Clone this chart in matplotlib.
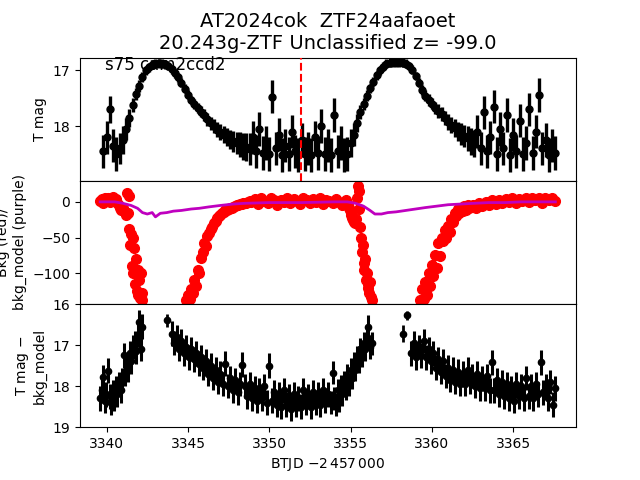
import matplotlib
matplotlib.use('Agg')
import matplotlib.pyplot as plt
import numpy as np

# --- top panel: T mag, regular cadence from top_start to top_end
top_start, top_end = 3339.8, 3367.6
top_mag = [18.45, 18.20, 17.70, 18.35, 18.50, 18.40, 18.25,
           18.05, 17.85, 17.62, 17.42, 17.28, 17.12,
           17.00, 16.94, 16.90, 16.88, 16.87, 16.88, 16.89, 16.92, 16.98, 17.05, 17.12, 17.22, 17.33,
           17.44, 17.53, 17.60, 17.67, 17.74, 17.80, 17.88, 17.95, 18.00, 18.06,
           18.10, 18.15, 18.20, 18.24, 18.27, 18.30, 18.33, 18.36, 18.38, 18.41,
           18.20, 18.45, 18.05, 18.48, 18.30, 18.50, 17.47, 18.40, 18.15, 18.52,
           18.35, 18.50, 18.10, 18.45, 18.52, 18.25, 18.50, 18.40, 18.52, 18.20,
           18.48, 18.00, 18.50, 18.35, 18.52, 17.80, 18.45, 18.30, 18.52, 18.50,
           18.30, 18.15, 17.95, 17.75, 17.60, 17.45,
           17.32, 17.20, 17.09, 17.00, 16.93, 16.88, 16.86, 16.85, 16.85, 16.85, 16.86, 16.88, 16.92, 16.99,
           17.10, 17.22, 17.35, 17.45, 17.53, 17.60, 17.67, 17.73, 17.78, 17.85,
           17.92, 17.98, 18.04, 18.09, 18.14, 18.18, 18.22, 18.27, 18.31,
           18.10, 18.40, 17.75, 18.45, 18.20, 17.65, 18.50, 18.05, 18.40, 17.80,
           18.52, 18.15, 18.45, 17.90, 18.50, 18.30, 17.70, 18.48, 18.10, 17.44,
           18.40, 18.25, 18.52, 18.35, 18.48]
top_err = [0.30, 0.30, 0.25, 0.30, 0.30, 0.28, 0.25,
           0.20, 0.16, 0.13, 0.11, 0.10, 0.09,
           0.08, 0.08, 0.08, 0.08, 0.08, 0.08, 0.08, 0.08, 0.08, 0.08, 0.08, 0.08, 0.08,
           0.08, 0.08, 0.09, 0.09, 0.10, 0.10, 0.11, 0.12, 0.12, 0.13,
           0.14, 0.15, 0.16, 0.17, 0.19, 0.20, 0.22, 0.24, 0.25, 0.28,
           0.30, 0.30, 0.30, 0.30, 0.30, 0.30, 0.30, 0.30, 0.30, 0.30,
           0.30, 0.30, 0.30, 0.30, 0.30, 0.30, 0.30, 0.30, 0.30, 0.30,
           0.30, 0.30, 0.30, 0.30, 0.30, 0.30, 0.30, 0.30, 0.30, 0.30,
           0.25, 0.20, 0.16, 0.13, 0.11, 0.09,
           0.08, 0.08, 0.08, 0.08, 0.08, 0.08, 0.08, 0.08, 0.08, 0.08, 0.08, 0.08, 0.08, 0.08,
           0.08, 0.08, 0.09, 0.09, 0.10, 0.10, 0.11, 0.12, 0.12, 0.13,
           0.14, 0.15, 0.16, 0.17, 0.19, 0.20, 0.22, 0.24, 0.25,
           0.30, 0.30, 0.30, 0.30, 0.30, 0.30, 0.30, 0.30, 0.30, 0.30,
           0.30, 0.30, 0.30, 0.30, 0.30, 0.30, 0.30, 0.30, 0.30, 0.30,
           0.30, 0.30, 0.30, 0.30, 0.30]
t_peak = 3351.95

# --- middle panel: bkg (red) in segments, bkg_model (purple)
red_seg_start = [3339.6, 3341.25, 3342.4, 3344.9, 3348.9, 3354.8, 3356.6, 3359.3, 3362.3]
red_seg_end = [3341.2, 3342.25, 3344.8, 3348.8, 3354.7, 3356.35, 3359.0, 3362.2, 3367.6]
red_1 = [1, 4, -1, 5, 2, 6, 0, 3, 7, 2, 4, -3, -8, -12, -9, -14, -18]
red_2 = [12, -15, 8, -38, -60, -45, -90, -50, -100, -65, -115, -80, -125, -95, -130,
         -110, -135, -100, -128, -138, -170]
red_3 = [-200, -260, -310, -330, -320, -300, -270, -230, -190]
red_4 = [-138, -130, -136, -122, -128, -110, -118, -95, -100, -78,
         -70, -58, -62, -48, -44, -38, -35, -30, -27, -23,
         -20, -18, -16, -14, -12, -11, -10, -9, -8, -7,
         -6, -5, -4, -3, -3, -2, -1, -1, 0, 1]
red_5 = [0, 4, -3, 5, 1, -2, 6, 2, -4, 3, 0, 5, -2, 4, 1, -3, 6, 2, -1, 4,
         0, 5, -3, 3, 1, -2, 4, 0, -4, 2]
red_6 = [-2, -5, -8, -12, -15, -18, -22, -25, -28, -26, -30, -24, 5, 22, 15, -10,
         -35, -50, -70, -60, -85, -95, -80, -110, -100, -120, -115, -128, -112, -133,
         -138, -175]
red_7 = [-220, -290, -340, -360, -350, -320, -280, -230, -180]
red_8 = [-138, -122, -136, -112, -130, -100, -118, -88, -104, -75,
         -92, -58, -76, -51, -55, -40, -50, -34, -42, -24,
         -28, -16, -20, -10, -15, -8, -13, -6, -11, -5]
red_9 = [-9, -4, -8, -2, -6, 0, -4, 2, -3, 3, -1, 4, 0, 5, -1, 4, 1, 6, 0, 5,
         2, 6, -1, 5, 2, 6, 1]
red_vals = [red_1, red_2, red_3, red_4, red_5, red_6, red_7, red_8, red_9]

model_t = [3339.6, 3340.5, 3341.0, 3341.5, 3341.9, 3342.2, 3342.5, 3342.8, 3343.0, 3343.3,
           3343.7, 3344.1, 3344.6, 3345.2, 3345.7, 3346.3, 3347.0, 3347.8, 3348.5, 3350.0,
           3352.0, 3354.0, 3354.8, 3355.3, 3355.8, 3356.2, 3356.5, 3356.9, 3357.3, 3357.8,
           3358.4, 3359.0, 3359.6, 3360.3, 3361.0, 3361.8, 3362.6, 3363.5, 3364.5, 3365.5,
           3366.5, 3367.6]
model_v = [0, 0, -2, -5, -9, -15, -17, -15, -21, -16,
           -15, -13, -12, -10, -9, -7, -5, -3, -2, -1,
           -1, 0, 0, -2, -6, -12, -17, -17, -15, -14,
           -12, -10, -8, -6, -4, -3, -2, -1, -1, 0,
           0, 0]

# --- bottom panel: T mag - bkg_model
bot_seg_start = [3339.6, 3344.0, 3353.8, 3358.75]
bot_seg_end = [3342.2, 3353.6, 3356.3, 3367.6]
bot_seg_err = [0.30, 0.30, 0.28, 0.30]
bot_1 = [18.30, 18.10, 17.78, 18.35, 18.20, 17.62, 18.25, 18.40, 18.15, 18.30,
         18.05, 18.20, 17.95, 18.10, 17.85, 17.25, 17.70, 17.50, 17.60, 17.20,
         17.40, 17.05, 16.95, 17.15, 16.75, 16.45, 17.10, 16.55]
bot_2 = [16.72, 16.95, 16.80, 17.10, 16.90, 17.20, 17.05, 17.30, 17.10, 17.35,
         17.20, 17.45, 17.30, 17.55, 17.40, 17.70, 17.50, 17.80, 17.60, 17.90,
         17.70, 17.95, 17.45, 18.00, 17.80, 18.10, 17.85, 18.15, 17.95, 17.48,
         18.00, 18.25, 17.95, 18.30, 18.05, 18.35, 18.10, 18.30, 18.00, 18.40,
         17.50, 18.35, 18.15, 18.45, 18.20, 18.50, 18.10, 18.45, 18.25, 18.55,
         18.20, 18.45, 18.30, 18.50, 18.10, 18.40, 18.25, 18.50, 18.15, 18.40,
         18.20, 18.45, 18.10, 18.35, 18.20]
bot_3 = [18.40, 17.68, 18.30, 18.45, 18.10, 18.35, 18.00, 18.20, 17.90, 18.05,
         17.75, 17.95, 17.60, 17.80, 17.45, 17.60, 17.30, 17.40, 17.10, 17.25,
         16.95, 17.10, 16.80, 16.55, 17.05, 16.95]
bot_4 = [17.20, 16.95, 17.30, 17.05, 17.25, 16.90, 17.30, 17.10, 17.40, 17.20,
         17.55, 17.35, 17.65, 17.40, 17.75, 17.55, 17.85, 17.60, 17.90, 17.65,
         17.95, 17.70, 17.95, 17.60, 17.90, 17.75, 18.00, 17.70, 18.05, 17.80,
         18.05, 17.75, 18.10, 17.42, 18.10, 17.85, 18.20, 17.90, 18.25, 17.95,
         18.30, 18.05, 18.35, 17.95, 18.25, 18.00, 18.30, 17.80, 18.25, 18.00,
         18.30, 17.95, 18.20, 17.42, 18.15, 18.00, 18.30, 17.90, 18.45, 18.05]
bot_vals = [bot_1, bot_2, bot_3, bot_4]
bot_single_t = [3343.7, 3358.2, 3358.5]
bot_single_mag = [16.40, 16.72, 16.28]
bot_single_err = [0.15, 0.20, 0.10]

title = "AT2024cok  ZTF24aafaoet\n20.243g-ZTF Unclassified z= -99.0"

fig, (ax1, ax2, ax3) = plt.subplots(3, 1, sharex=True, figsize=(6.4, 4.8), dpi=100)
fig.subplots_adjust(hspace=0)

# top
t_top = np.linspace(top_start, top_end, len(top_mag))
ax1.errorbar(t_top, top_mag, yerr=top_err, fmt='ko', ms=5, elinewidth=2.4, zorder=3)
ax1.axvline(t_peak, color='r', ls='--', zorder=4)
ax1.text(0.05, 0.9, 's75 cam2ccd2', transform=ax1.transAxes, fontsize=12, zorder=1)
ax1.set_ylim(18.98, 16.77)
ax1.set_ylabel('T mag')
ax1.set_title(title, fontsize=14)

# middle
for s, e, v in zip(red_seg_start, red_seg_end, red_vals):
    ax2.plot(np.linspace(s, e, len(v)), v, 'ro', ms=7)
ax2.plot(model_t, model_v, color='m', lw=2)
ax2.set_ylim(-143, 29.5)
ax2.set_ylabel('Bkg (red)/\nbkg_model (purple)')

# bottom
for s, e, v, err in zip(bot_seg_start, bot_seg_end, bot_vals, bot_seg_err):
    ax3.errorbar(np.linspace(s, e, len(v)), v, yerr=err, fmt='ko', ms=4.5, elinewidth=2.2)
ax3.errorbar(bot_single_t, bot_single_mag, yerr=bot_single_err, fmt='ko', ms=4.5, elinewidth=2)
ax3.set_ylim(19, 16)
ax3.set_ylabel('T mag $-$\nbkg_model')
ax3.set_xlim(3338.36, 3368.87)
ax3.set_xlabel('BTJD $-2\\,457\\,000$')

plt.savefig('out.png')
